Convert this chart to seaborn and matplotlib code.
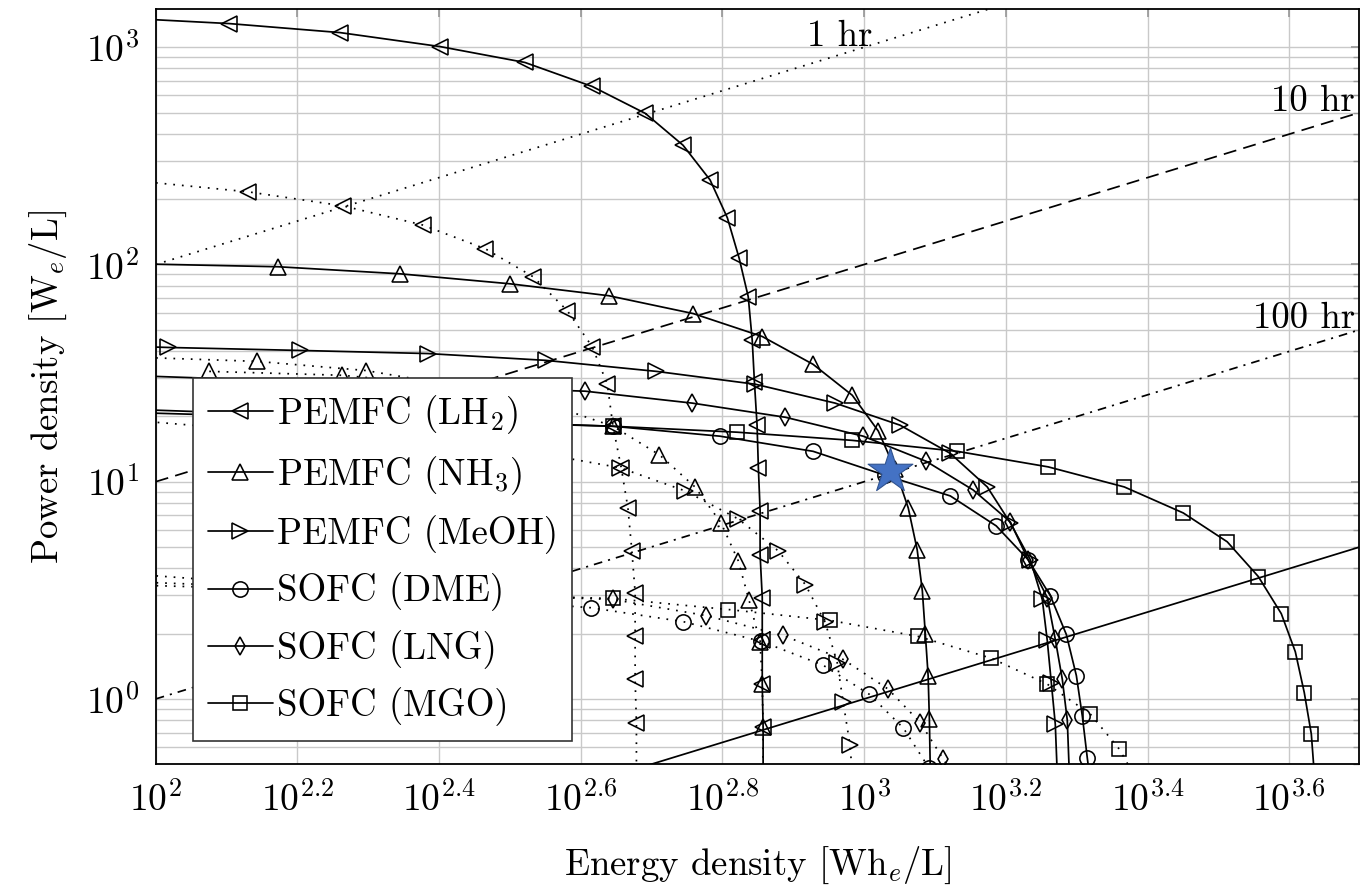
import matplotlib
matplotlib.use("Agg")
import matplotlib.pyplot as plt
import seaborn as sns
from matplotlib.ticker import FixedLocator, FixedFormatter, NullLocator, LogLocator, NullFormatter

# ---------------- data ----------------
# solid curves
lh2_E = [89, 127, 182, 252, 332, 413, 491, 555, 606, 641, 666, 686, 695, 700, 706, 709, 713, 713, 718, 718, 718, 720, 720]
lh2_P = [1365, 1285, 1168, 1007, 851, 660, 496, 354, 245, 164, 107, 71.1, 44.7, 28.7, 18.2, 11.6, 7.34, 4.61, 2.93, 1.86, 1.17, 0.742, 0.45]

nh3_E = [90, 149, 221, 316, 436, 574, 718, 847, 962, 1047, 1106, 1154, 1188, 1208, 1220, 1231, 1236, 1240]
nh3_P = [101, 97.6, 90.6, 81.5, 71.8, 59.4, 46.6, 34.7, 25.0, 17.1, 11.4, 7.57, 4.86, 3.15, 1.98, 1.28, 0.807, 0.45]

meoh_E = [82, 104, 160, 242, 355, 509, 702, 910, 1124, 1323, 1492, 1608, 1716, 1784, 1813, 1837, 1861, 1873]
meoh_P = [42.5, 41.5, 40.2, 38.9, 36.2, 32.2, 28.1, 23.0, 18.2, 13.5, 9.46, 6.46, 4.37, 2.87, 1.86, 1.19, 0.765, 0.45]

dme_E = [80, 442, 626, 847, 1071, 1323, 1536, 1704, 1831, 1929, 1993, 2032, 2065, 2079]
dme_P = [21.9, 18.0, 16.2, 13.8, 10.7, 8.60, 6.26, 4.37, 2.99, 1.98, 1.28, 0.833, 0.535, 0.45]

lng_E = [80, 404, 572, 774, 997, 1224, 1425, 1608, 1704, 1813, 1861, 1904, 1935, 1948]
lng_P = [31.3, 26.1, 23.0, 19.8, 16.2, 12.4, 9.16, 6.53, 4.37, 2.93, 1.88, 1.23, 0.798, 0.45]

mgo_E = [80, 442, 662, 962, 1353, 1819, 2329, 2821, 3254, 3600, 3879, 4060, 4180, 4277, 4319]
mgo_P = [21.1, 18.0, 16.9, 15.5, 13.8, 11.7, 9.46, 7.18, 5.29, 3.66, 2.47, 1.65, 1.07, 0.689, 0.45]

# dotted curves
lh2d_E = [92, 135, 184, 238, 292, 341, 381, 413, 434, 442, 454, 464, 470, 475, 475, 475, 477, 477]
lh2d_P = [244, 216, 186, 152, 118, 87.8, 61.3, 41.9, 28.1, 18.0, 11.6, 7.57, 4.81, 3.09, 1.94, 1.23, 0.774, 0.45]

nh3d_E = [92, 139, 198, 278, 366, 442, 514, 577, 628, 664, 688, 713, 718, 720, 720]
nh3d_P = [37.5, 35.8, 32.5, 26.9, 22.2, 18.0, 13.3, 9.46, 6.46, 4.33, 2.84, 1.82, 1.17, 0.742, 0.45]

nh3d2_E = [119, 183, 287, 366]
nh3d2_P = [32.2, 30.9, 27.0, 23.0]

meohd_E = [85, 349, 452, 559, 664, 756, 826, 881, 916, 934, 955, 962]
meohd_P = [19.6, 13.5, 11.6, 9.07, 6.74, 4.81, 3.36, 2.25, 1.47, 0.966, 0.613, 0.45]

dmed_E = [80, 411, 555, 716, 875, 1017, 1136, 1235]
dmed_P = [3.89, 2.63, 2.27, 1.84, 1.43, 1.05, 0.734, 0.48]

lngd_E = [80, 442, 598, 769, 934, 1081, 1200, 1293, 1350]
lngd_P = [3.52, 2.87, 2.42, 1.96, 1.52, 1.11, 0.778, 0.529, 0.42]

mgod_E = [80, 442, 643, 895, 1192, 1511, 1813, 2086, 2291, 2443]
mgod_P = [3.39, 2.90, 2.58, 2.30, 1.94, 1.54, 1.17, 0.851, 0.588, 0.406]

# constant discharge-time lines
tline_E = [100, 5000]
t1_P = [100, 5000]
t10_P = [10, 500]
t100_P = [1, 50]
t1000_P = [0.1, 5]
tline_labels = ["1 hr", "10 hr", "100 hr"]

# design point
star_E = [1088]
star_P = [11.2]

legend_labels = ["PEMFC (LH$_2$)", "PEMFC (NH$_3$)", "PEMFC (MeOH)",
                 "SOFC (DME)", "SOFC (LNG)", "SOFC (MGO)"]

xtick_vals = [100, 158.49, 251.19, 398.11, 630.96, 1000, 1584.9, 2511.9, 3981.1]
xtick_labels = ["$10^{2}$", "$10^{2.2}$", "$10^{2.4}$", "$10^{2.6}$", "$10^{2.8}$",
                "$10^{3}$", "$10^{3.2}$", "$10^{3.4}$", "$10^{3.6}$"]
ytick_vals = [1, 10, 100, 1000]
ytick_labels = ["$10^{0}$", "$10^{1}$", "$10^{2}$", "$10^{3}$"]

# ---------------- style ----------------
sns.set_theme(style="white")
plt.rcParams["font.family"] = ["cmr10", "DejaVu Serif"]
plt.rcParams["mathtext.fontset"] = "cm"
plt.rcParams["axes.unicode_minus"] = False
plt.rcParams["axes.formatter.use_mathtext"] = True
for k in ["text.color", "axes.labelcolor", "xtick.color", "ytick.color"]:
    plt.rcParams[k] = "black"

FS = 26.5
TFS = 27
fig = plt.figure(figsize=(13.72, 8.90), dpi=100)
ax = fig.add_axes([0.1135, 0.1412, 0.8773, 0.8487])
ax.set_xscale("log")
ax.set_yscale("log")
ax.set_xlim(100, 5000)
ax.set_ylim(0.5, 1500)

DOT = (0, (1, 4))
LW = 1.25


def curve(E, P, marker, ls, ms):
    sns.lineplot(x=E, y=P, ax=ax, sort=False, estimator=None, errorbar=None,
                 color="black", linewidth=LW, linestyle=ls, marker=marker,
                 markersize=ms, markerfacecolor="none", markeredgecolor="black",
                 markeredgewidth=1.15, legend=False, zorder=3)
    return ax.lines[-1]


# time lines
sns.lineplot(x=tline_E, y=t1_P, ax=ax, color="black", linewidth=LW, linestyle=DOT, legend=False)
sns.lineplot(x=tline_E, y=t10_P, ax=ax, color="black", linewidth=LW, linestyle=(0, (7.5, 4.2)), legend=False)
sns.lineplot(x=tline_E, y=t100_P, ax=ax, color="black", linewidth=LW, linestyle=(0, (5, 3.5, 1.2, 3.5)), legend=False)
sns.lineplot(x=tline_E, y=t1000_P, ax=ax, color="black", linewidth=LW, linestyle="-", legend=False)

# dotted curves
curve(lh2d_E, lh2d_P, "<", DOT, 11)
curve(nh3d_E, nh3d_P, "^", DOT, 11)
curve(nh3d2_E, nh3d2_P, "^", DOT, 11)
curve(meohd_E, meohd_P, ">", DOT, 11)
curve(dmed_E, dmed_P, "o", DOT, 11)
curve(lngd_E, lngd_P, "d", DOT, 9)
curve(mgod_E, mgod_P, "s", DOT, 10.5)

# solid curves
handles = [
    curve(lh2_E, lh2_P, "<", "-", 11),
    curve(nh3_E, nh3_P, "^", "-", 11),
    curve(meoh_E, meoh_P, ">", "-", 11),
    curve(dme_E, dme_P, "o", "-", 11),
    curve(lng_E, lng_P, "d", "-", 9),
    curve(mgo_E, mgo_P, "s", "-", 10.5),
]

# design point
sns.scatterplot(x=star_E, y=star_P, ax=ax, marker="*", s=1150, color="#4472C4",
                edgecolor="#2F528F", linewidth=0.8, zorder=6, legend=False)

# time line labels
ax.text(1026, 1018, tline_labels[0], fontsize=FS, ha="right", va="baseline")
ax.text(4933, 507, tline_labels[1], fontsize=FS, ha="right", va="baseline")
ax.text(4933, 51.2, tline_labels[2], fontsize=FS, ha="right", va="baseline")

# axes, ticks, grid
ax.xaxis.set_major_locator(FixedLocator(xtick_vals))
ax.xaxis.set_major_formatter(FixedFormatter(xtick_labels))
ax.xaxis.set_minor_locator(NullLocator())
ax.yaxis.set_major_locator(FixedLocator(ytick_vals))
ax.yaxis.set_major_formatter(FixedFormatter(ytick_labels))
ax.yaxis.set_minor_locator(LogLocator(base=10, subs=(2, 3, 4, 5, 6, 7, 8, 9), numticks=20))
ax.yaxis.set_minor_formatter(NullFormatter())
ax.grid(which="major", axis="both", color="#c9c9c9", linewidth=1.0)
ax.grid(which="minor", axis="y", color="#c9c9c9", linewidth=1.0)
ax.set_axisbelow(True)
ax.tick_params(which="both", direction="in", top=True, right=True, color="#999999",
               labelsize=TFS, pad=12)
ax.tick_params(which="major", length=6)
ax.tick_params(which="minor", length=4)
for s in ax.spines.values():
    s.set_color("black")
    s.set_linewidth(1.3)

ax.set_xlabel("Energy density [Wh$_e$/L]", fontsize=FS)
ax.set_ylabel("Power density [W$_e$/L]", fontsize=FS)
ax.xaxis.set_label_coords(0.5, -0.106)
ax.yaxis.set_label_coords(-0.072, 0.5)

leg = ax.legend(handles, legend_labels, loc="upper left", bbox_to_anchor=(0.031, 0.5115),
                borderaxespad=0, frameon=True, fancybox=False, framealpha=1,
                edgecolor="#333333", fontsize=FS, handlelength=1.77, handletextpad=0.1,
                labelspacing=0.5, borderpad=0.4)
leg.get_frame().set_linewidth(1.2)
leg.set_zorder(10)

fig.savefig("out.png", dpi=100)
